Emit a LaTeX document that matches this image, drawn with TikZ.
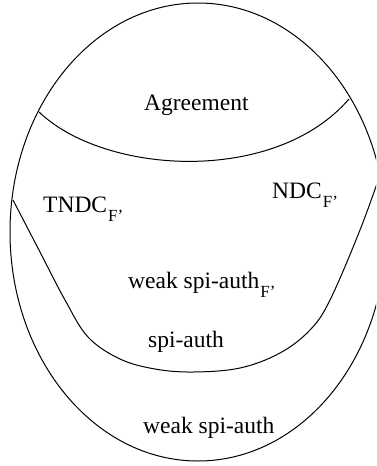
\documentclass[tikz,border=0pt]{standalone}
\usepackage{fontspec}
\setmainfont{Liberation Serif}
\newcommand{\indF}{\kern1pt\raisebox{-9pt}{\fontsize{17}{18}\selectfont F’}}
\begin{document}
\begin{tikzpicture}[x=1pt,y=-1pt]
	% définition des styles
	\tikzstyle{ensemble}=[draw,line width=1pt]
	\tikzstyle{etiquette}=[anchor=base west,inner sep=0pt,font=\fontsize{23.5}{28}\selectfont]
	\useasboundingbox (0,0) rectangle (376,466);
	\clip (0,0) rectangle (376,466);
	% les ensembles
	\draw[ensemble] (198,232) ellipse [x radius=188pt, y radius=229pt];
	\draw[ensemble] (39,112) .. controls (105,175) and (275,185) .. (349,99);
	\draw[ensemble] plot[smooth,tension=0.6] coordinates {(13,200) (40,252) (65,300) (88,337) (120,359) (155,369) (193,372) (240,368) (280,353) (310,330) (330,300) (360,230) (381,172)};
	% les étiquettes
	\node[etiquette] (agr) at (144,110) {Agreement};
	\node[etiquette] (tndc) at (43,212) {TNDC\indF};
	\node[etiquette] (ndc) at (272,198) {NDC\indF};
	\node[etiquette] (wsaf) at (128,288) {weak spi-auth\indF};
	\node[etiquette] (sa) at (148,347) {spi-auth};
	\node[etiquette] (wsa) at (143,433) {weak spi-auth};
\end{tikzpicture}
\end{document}
